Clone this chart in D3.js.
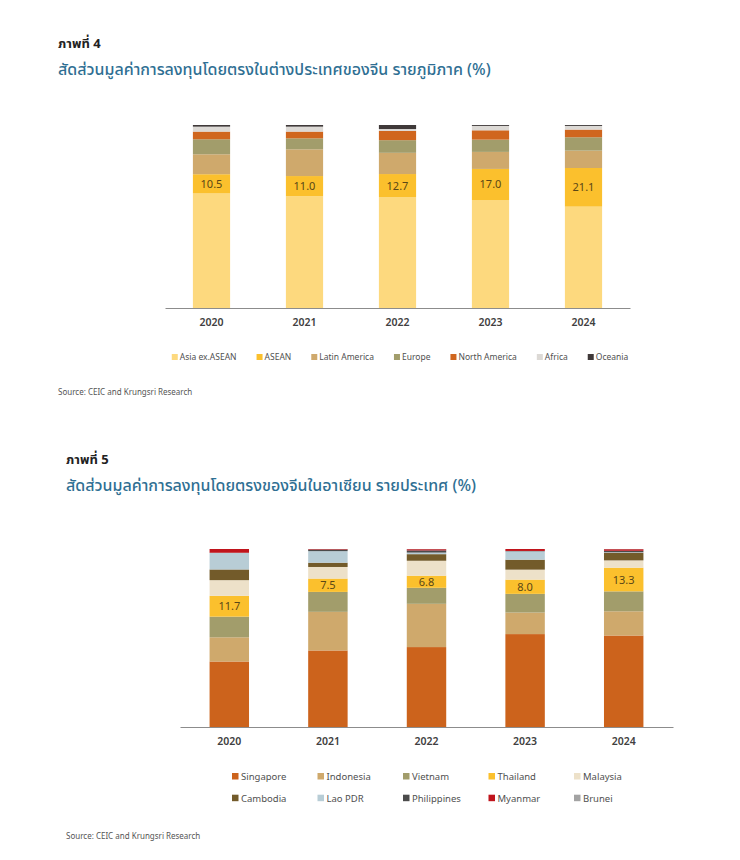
<!DOCTYPE html>
<html>
<head>
<meta charset="utf-8">
<script src="https://cdn.jsdelivr.net/npm/d3@7"></script>
<style>
  body { margin: 0; background: #fff; }
  svg text { font-family: "Noto Sans Thai", "Open Sans", "Noto Sans", sans-serif; }
</style>
</head>
<body>
<div id="chart"></div>
<script>
// ภาพที่ 4 data (share %, stacked bottom -> top)
const years = ["2020", "2021", "2022", "2023", "2024"];
const regions = ["Asia ex.ASEAN", "ASEAN", "Latin America", "Europe", "North America", "Africa", "Oceania"];
const asiaExAsean = [62.6, 61.1, 60.5, 59.0, 55.4];
const asean = [10.5, 11.0, 12.7, 17.0, 21.1];
const latinAmerica = [10.9, 14.6, 11.6, 9.3, 9.5];
const europe = [8.2, 6.0, 6.9, 6.7, 7.3];
const northAmerica = [4.2, 3.7, 5.1, 5.1, 4.2];
const africa = [2.7, 2.7, 1.0, 2.4, 2.0];
const oceania = [0.9, 0.9, 2.2, 0.5, 0.5];
const regionColors = ["#fdd97e", "#fbc02d", "#cfa96c", "#a29d6b", "#d0661e", "#dcd9d5", "#3f3939"];

// ภาพที่ 5 data
const countries = ["Singapore", "Indonesia", "Vietnam", "Thailand", "Malaysia",
                   "Cambodia", "Lao PDR", "Philippines", "Myanmar", "Brunei"];
const singapore = [36.8, 43.0, 44.9, 52.2, 51.4];
const indonesia = [13.6, 21.7, 24.3, 12.1, 13.6];
const vietnam = [11.6, 11.2, 9.0, 10.5, 11.2];
const thailand = [11.7, 7.5, 6.8, 8.0, 13.3];
const malaysia = [8.8, 6.5, 8.4, 5.6, 4.1];
const cambodia = [6.0, 2.4, 3.7, 5.6, 4.3];
const laoPdr = [9.3, 6.5, 0.9, 4.7, 0.3];
const philippines = [0.1, 0.9, 1.2, 0.2, 0.8];
const myanmar = [2.1, 0.3, 0.7, 1.1, 0.9];
const brunei = [0.0, 0.0, 0.1, 0.0, 0.1];
const countryColors = ["#cc631c", "#cfa96c", "#a29d6b", "#fbc02d", "#ede1c9",
                       "#735b2a", "#b8cdd6", "#4b4b4b", "#c0141c", "#a3a3a3"];

const svg = d3.select("#chart").append("svg")
    .attr("width", 740)
    .attr("height", 860);

// วาดกราฟแท่งซ้อน
function drawStack(opt) {
    const table = years.map((y, i) => {
        const row = { year: y };
        opt.keys.forEach((k, j) => row[k] = opt.series[j][i]);
        return row;
    });
    const stacked = d3.stack().keys(opt.keys)(table);

    const x = d3.scaleBand().domain(years).range([opt.x0, opt.x1]).paddingInner(0.6).paddingOuter(0.3);
    const y = d3.scaleLinear().domain([0, 100]).range([opt.base, opt.top]);
    const color = d3.scaleOrdinal().domain(opt.keys).range(opt.colors);

    const g = svg.append("g");

    // titles
    g.append("text")
        .attr("x", opt.titleX).attr("y", opt.titleY)
        .style("font-size", "13px").style("font-weight", "bold").attr("fill", "#222")
        .text(opt.figLabel);
    g.append("text")
        .attr("x", opt.titleX).attr("y", opt.titleY + 27)
        .style("font-size", "16px").style("font-weight", "500").attr("fill", "#2f6f93")
        .text(opt.title);

    g.selectAll("g.layer")
        .data(stacked).enter().append("g")
        .attr("class", "layer")
        .attr("fill", d => color(d.key))
        .selectAll("rect")
        .data(d => d).enter().append("rect")
        .attr("x", d => x(d.data.year))
        .attr("y", d => y(d[1]))
        .attr("width", x.bandwidth())
        .attr("height", d => y(d[0]) - y(d[1]));

    // labels on highlighted series
    const lab = stacked.find(s => s.key === opt.labelKey);
    g.selectAll("text.val")
        .data(lab).enter().append("text")
        .attr("class", "val")
        .attr("x", d => x(d.data.year) + x.bandwidth() / 2)
        .attr("y", d => (y(d[0]) + y(d[1])) / 2 + 4)
        .attr("text-anchor", "middle")
        .style("font-size", "11px")
        .attr("fill", "#5a4716")
        .text(d => d3.format(".1f")(d[1] - d[0]));

    // x axis
    const ax = g.append("g")
        .attr("transform", `translate(0,${opt.base})`)
        .call(d3.axisBottom(x).tickSize(0).tickPadding(11));
    ax.select(".domain").attr("stroke", "#8c8c8c");
    ax.selectAll("text")
        .style("font-size", "10.5px").style("font-weight", "600").attr("fill", "#404040");

    g.append("text")
        .attr("x", opt.srcX).attr("y", opt.srcY)
        .style("font-size", "8px").attr("fill", "#555")
        .text("Source: CEIC and Krungsri Research");

    return { g, color };
}

// ภาพที่ 4
const c1 = drawStack({
    keys: regions,
    series: [asiaExAsean, asean, latinAmerica, europe, northAmerica, africa, oceania],
    colors: regionColors,
    labelKey: "ASEAN",
    x0: 165, x1: 630, base: 308, top: 125,
    titleX: 58, titleY: 48,
    figLabel: "ภาพที่ 4",
    title: "สัดส่วนมูลค่าการลงทุนโดยตรงในต่างประเทศของจีน รายภูมิภาค (%)",
    srcX: 58, srcY: 395
});

// legend for ภาพที่ 4: single row
const leg1 = c1.g.append("g");
let lx = 0;
regions.forEach(k => {
    const item = leg1.append("g").attr("transform", `translate(${lx},0)`);
    item.append("rect").attr("x", 0).attr("y", -6).attr("width", 6).attr("height", 6).attr("fill", c1.color(k));
    const t = item.append("text").attr("x", 8).attr("y", 0)
        .style("font-size", "8.5px").attr("fill", "#505050").text(k);
    lx += 8 + t.node().getComputedTextLength() + 20;
});
leg1.attr("transform", `translate(${400 - (lx - 20) / 2},360)`);

// ภาพที่ 5
const c2 = drawStack({
    keys: countries,
    series: [singapore, indonesia, vietnam, thailand, malaysia, cambodia, laoPdr, philippines, myanmar, brunei],
    colors: countryColors,
    labelKey: "Thailand",
    x0: 180, x1: 673, base: 727, top: 549,
    titleX: 66, titleY: 464,
    figLabel: "ภาพที่ 5",
    title: "สัดส่วนมูลค่าการลงทุนโดยตรงของจีนในอาเซียน รายประเทศ (%)",
    srcX: 66, srcY: 839
});

// legend for ภาพที่ 5: 5 columns x 2 rows
const leg2 = c2.g.append("g");
countries.forEach((k, i) => {
    const col = i % 5, row = Math.floor(i / 5);
    const item = leg2.append("g").attr("transform", `translate(${232 + col * 85.5},${780 + row * 21.7})`);
    item.append("rect").attr("x", 0).attr("y", -7).attr("width", 6.5).attr("height", 6.5).attr("fill", c2.color(k));
    item.append("text").attr("x", 9).attr("y", 0)
        .style("font-size", "9.5px").attr("fill", "#505050").text(k);
});
</script>
</body>
</html>
